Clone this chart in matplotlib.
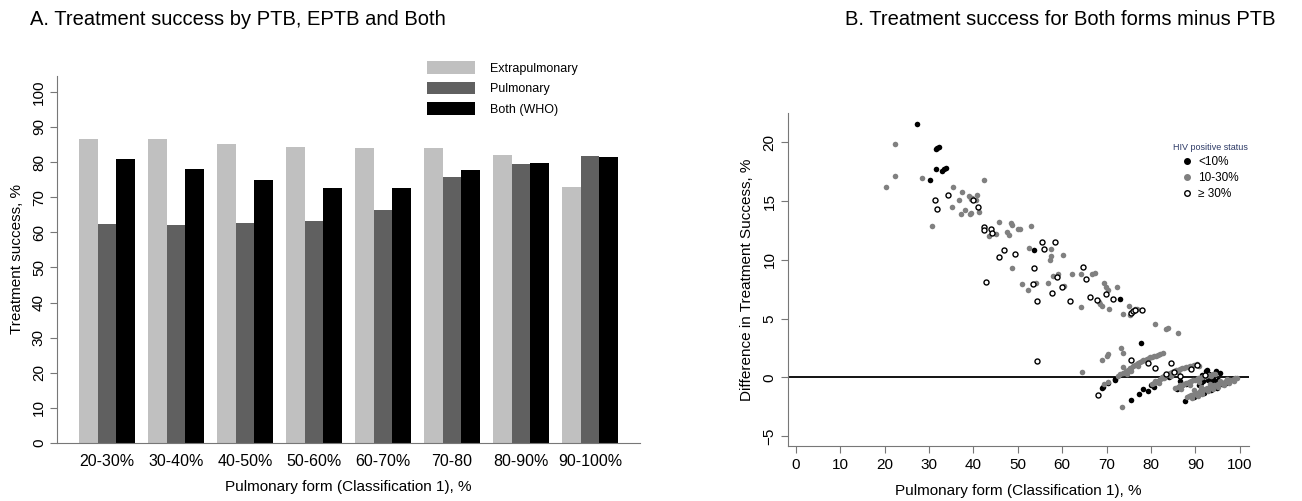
import numpy as np
import matplotlib.pyplot as plt
from matplotlib.patches import Patch
from matplotlib.lines import Line2D

plt.rcParams['font.family'] = ['Liberation Sans', 'DejaVu Sans']

# ---- panel A data
groups = ['20-30%', '30-40%', '40-50%', '50-60%', '60-70%', '70-80', '80-90%', '90-100%']
extrapulmonary = [86.6, 86.5, 85.0, 84.3, 84.1, 83.9, 82.0, 73.0]
pulmonary = [62.4, 62.2, 62.6, 63.2, 66.4, 75.8, 79.5, 81.7]
both_who = [80.8, 77.9, 75.0, 72.6, 72.5, 77.8, 79.8, 81.5]

# ---- panel B data (pulmonary form %, difference %)
hiv_low_x = [27.3, 31.6, 31.9, 32.2, 31.5, 30.2, 33.0, 33.4, 33.8, 53.7, 73.1, 77.8,
             69.0, 70.4, 71.8, 75.4, 77.3, 78.2, 79.4, 80.8, 87.6,
             88.0, 88.5, 89.6, 90.4, 91.2, 91.8, 92.3, 92.6, 93.0, 93.3, 93.6, 94.0,
             94.3, 94.6, 95.0, 92.0, 93.5, 94.8, 96.0, 97.0, 90.8, 92.8, 85.8, 87.0,
             82.5, 80.0, 81.5, 84.0, 86.5, 95.5, 91.5, 69.1, 71.9]
hiv_low_y = [21.6, 19.4, 19.5, 19.6, 17.7, 16.8, 17.6, 17.7, 17.8, 10.8, 6.7, 2.9,
             -0.9, -0.45, -0.2, -1.9, -1.4, -1.0, -1.2, -0.8, -2.0,
             -0.6, -0.5, -1.7, -1.45, -0.5, -0.35, 0.5, 0.65, 0.3, -0.1, -0.5, 0.0,
             -0.3, 0.5, -0.2, -1.3, -1.05, -0.9, -0.6, -0.45, -0.7, -0.2, -1.0, -0.7,
             -0.1, -0.65, -0.4, 0.0, -0.3, 0.4, 0.2, -0.8, -0.15]

hiv_mid_x = [20.4, 22.4, 22.4, 28.5, 30.8, 35.4, 35.2, 36.7, 37.5, 37.2, 38.1, 39.1,
             39.5, 39.8, 39.3, 39.5, 40.8, 40.5, 41.2, 42.3, 43.5, 45.1, 45.7, 47.6,
             48.0, 48.5, 48.7, 48.8, 50.1, 50.6, 51.0, 52.4, 52.6, 53.1, 54.2, 56.9,
             57.2, 57.5, 57.6, 57.9, 59.0, 60.3, 60.4, 62.3, 64.2, 64.3, 66.7, 67.4,
             68.2, 68.6, 69.0, 69.4, 69.9, 70.3, 70.6, 72.4, 73.6, 75.0, 75.2, 76.3,
             76.8, 80.9, 83.4, 83.8, 86.2,
             64.4, 68.9, 70.0, 70.4, 73.2, 73.6, 73.5, 73.8, 69.4, 70.3, 72.5, 73.0,
             # band rising from 74 to 83
             73.8, 74.3, 74.8, 75.2, 75.6, 76.0, 76.4, 76.8, 77.2, 77.5, 77.9, 78.3,
             78.7, 79.1, 79.5, 79.9, 80.3, 80.7, 81.1, 81.5, 82.0, 82.8, 75.4, 74.6, 77.0,
             # band 80 to 91
             80.2, 80.6, 81.0, 81.5, 82.0, 82.4, 82.9, 83.3, 83.8, 84.2, 84.7, 85.1,
             85.6, 86.0, 86.5, 86.9, 87.4, 87.8, 88.3, 88.8, 89.3, 89.8, 90.4, 90.9,
             81.8, 83.0, 84.5, 86.2,
             # band 85 to 95
             85.5, 86.0, 86.5, 87.0, 87.5, 88.0, 88.5, 89.0, 89.5, 90.0, 90.5, 91.0,
             91.5, 92.0, 92.5, 93.0, 93.5, 94.0, 94.5, 86.8, 88.8, 90.8,
             # band 88 to 99.5
             88.2, 88.6, 89.0, 89.4, 89.8, 90.2, 90.6, 91.0, 91.4, 91.8, 92.2, 92.6,
             93.0, 93.4, 93.8, 94.2, 94.6, 95.0, 95.4, 95.8, 96.2, 96.6, 97.0, 97.4,
             97.8, 98.2, 98.6, 99.0, 99.4, 89.2, 90.5, 91.6, 92.8, 94.0, 95.2, 96.4,
             97.6, 98.8, 89.6, 91.2, 93.2, 95.6, 97.2]
hiv_mid_y = [16.2, 19.9, 17.1, 17.0, 12.9, 16.2, 14.5, 15.1, 15.8, 13.9, 14.2, 15.4,
             15.2, 15.3, 13.9, 14.0, 15.5, 15.1, 14.1, 16.8, 12.0, 12.2, 13.2, 12.4,
             12.1, 13.1, 13.0, 9.3, 12.6, 12.6, 7.9, 7.4, 11.0, 12.9, 8.0, 8.0,
             10.0, 10.3, 10.9, 8.6, 8.8, 10.4, 7.8, 8.8, 8.8, 6.0, 8.8, 8.9,
             6.4, 6.2, 6.1, 8.0, 7.7, 7.4, 5.85, 7.7, 5.4, 6.1, 5.3, 5.8,
             5.85, 4.5, 4.1, 4.2, 3.8,
             0.45, 1.5, 1.85, 1.95, 2.5, 2.1, -2.5, 0.9, -0.6, -0.4, 0.1, 0.3,
             0.35, 0.55, 0.6, 0.8, 0.75, 0.95, 1.05, 1.1, 1.2, 1.3, 1.35, 1.45,
             1.5, 1.55, 1.6, 1.7, 1.75, 1.8, 1.85, 1.9, 1.95, 2.1, 0.5, 0.3, 0.95,
             -0.6, -0.5, -0.35, -0.3, -0.15, 0.0, 0.1, 0.2, 0.3, 0.35, 0.45, 0.5,
             0.6, 0.65, 0.7, 0.75, 0.8, 0.85, 0.9, 0.95, 1.0, 1.05, 1.1, 1.0,
             -0.5, -0.1, 0.15, 0.45,
             -0.9, -0.8, -0.7, -0.65, -0.55, -0.5, -0.4, -0.35, -0.25, -0.2, -0.1, -0.05,
             0.0, 0.1, 0.15, 0.2, 0.15, 0.25, 0.3, -1.0, -0.7, -0.4,
             -1.7, -1.6, -1.55, -1.5, -1.4, -1.35, -1.3, -1.2, -1.15, -1.1, -1.0, -0.95,
             -0.9, -0.85, -0.8, -0.7, -0.65, -0.6, -0.55, -0.5, -0.45, -0.4, -0.35, -0.3,
             -0.25, -0.2, -0.15, -0.1, -0.1, -1.8, -1.6, -1.4, -1.2, -1.0, -0.85, -0.7,
             -0.5, -0.3, -1.1, -0.85, -0.6, -0.3, -0.15]

hiv_high_x = [31.4, 31.9, 34.2, 39.9, 41.1, 42.3, 42.4, 43.9, 44.3, 42.8, 45.8, 46.9,
              49.4, 53.4, 53.7, 54.3, 54.3, 55.5, 55.9, 57.7, 58.3, 58.9, 60.0, 61.7,
              64.8, 65.4, 66.2, 67.9, 69.9, 71.5, 75.4, 75.9, 76.3, 77.9, 68.1, 75.6,
              79.3, 81.0, 84.5, 85.1, 83.4, 86.6, 89.1, 90.3, 92.2]
hiv_high_y = [15.1, 14.3, 15.5, 15.1, 14.5, 12.8, 12.5, 12.6, 12.3, 8.1, 10.2, 10.8,
              10.5, 7.9, 9.3, 6.5, 1.4, 11.5, 10.9, 7.2, 11.5, 8.5, 7.7, 6.5,
              9.4, 8.4, 6.8, 6.6, 7.1, 6.7, 5.5, 5.6, 5.7, 5.7, -1.5, 1.5,
              1.2, 0.8, 1.2, 0.45, 0.3, 0.15, 0.7, 1.05, 0.2]

fig = plt.figure(figsize=(13.02, 5.01), dpi=100)

# ---------------- panel A
axA = fig.add_axes([0.0438, 0.1158, 0.4478, 0.7325])
xs = np.arange(len(groups))
w = 0.268
axA.bar(xs - w, extrapulmonary, w, color='#c0c0c0')
axA.bar(xs, pulmonary, w, color='#606060')
axA.bar(xs + w, both_who, w, color='#000000')
axA.set_xlim(-0.725, len(groups) - 1 + 0.725)
axA.set_ylim(0, 104.5)
axA.set_yticks(range(0, 101, 10))
axA.set_xticks(xs)
axA.set_xticklabels(groups, fontsize=11.5)
axA.tick_params(axis='x', length=0, pad=8)
axA.tick_params(axis='y', length=5, color='#777777', labelsize=11, labelrotation=90, pad=3)
for t in axA.get_yticklabels():
    t.set_va('center')
for s in ['top', 'right']:
    axA.spines[s].set_visible(False)
for s in ['left', 'bottom']:
    axA.spines[s].set_color('#777777')
axA.set_ylabel('Treatment success, %', fontsize=11, labelpad=6)
axA.set_xlabel('Pulmonary form (Classification 1), %', fontsize=11, labelpad=8)
fig.text(0.023, 0.962, 'A. Treatment success by PTB, EPTB and Both', fontsize=14.5, va='center')

handlesA = [Patch(facecolor='#c0c0c0'), Patch(facecolor='#606060'), Patch(facecolor='#000000')]
fig.legend(handlesA, ['Extrapulmonary', 'Pulmonary', 'Both (WHO)'],
           loc='upper left', bbox_to_anchor=(0.328, 0.878), frameon=False,
           fontsize=9, handlelength=3.8, handleheight=1.2, labelspacing=0.55,
           handletextpad=1.2, borderpad=0, borderaxespad=0)

# ---------------- panel B
axB = fig.add_axes([0.605, 0.1098, 0.354, 0.6647])
axB.axhline(0, color='black', lw=1.3, zorder=1)
axB.scatter(hiv_low_x, hiv_low_y, s=16, color='black', linewidths=0, zorder=2)
axB.scatter(hiv_mid_x, hiv_mid_y, s=16, color='#808080', linewidths=0, zorder=3)
axB.scatter(hiv_high_x, hiv_high_y, s=13, facecolor='white', edgecolor='black',
            linewidths=1.0, zorder=4)
axB.set_xlim(-1.8, 102)
axB.set_ylim(-5.85, 22.5)
axB.set_xticks(range(0, 101, 10))
axB.set_yticks([-5, 0, 5, 10, 15, 20])
axB.tick_params(axis='both', length=5, color='#777777', labelsize=11)
axB.tick_params(axis='y', labelrotation=90, pad=3)
for t in axB.get_yticklabels():
    t.set_va('center')
for s in ['top', 'right']:
    axB.spines[s].set_visible(False)
for s in ['left', 'bottom']:
    axB.spines[s].set_color('#777777')
axB.set_ylabel('Difference in Treatment Success, %', fontsize=11, labelpad=6)
axB.set_xlabel('Pulmonary form (Classification 1), %', fontsize=11, labelpad=9)
fig.text(0.649, 0.962, 'B. Treatment success for Both forms minus PTB', fontsize=14.5, va='center')

handlesB = [Line2D([], [], ls='', marker='o', ms=4, mfc='black', mec='black'),
            Line2D([], [], ls='', marker='o', ms=4, mfc='#808080', mec='#808080'),
            Line2D([], [], ls='', marker='o', ms=4, mfc='white', mec='black', mew=1.0)]
legB = fig.legend(handlesB, ['<10%', '10-30%', '\u2265 30%'], title='HIV positive status',
                  loc='upper left', bbox_to_anchor=(0.901, 0.715), frameon=False,
                  fontsize=8.5, title_fontsize=6.5, handlelength=0.8, handletextpad=0.5,
                  labelspacing=0.35, borderpad=0, borderaxespad=0)
legB.get_title().set_color('#2d3a66')

fig.savefig('out.png', dpi=100)
